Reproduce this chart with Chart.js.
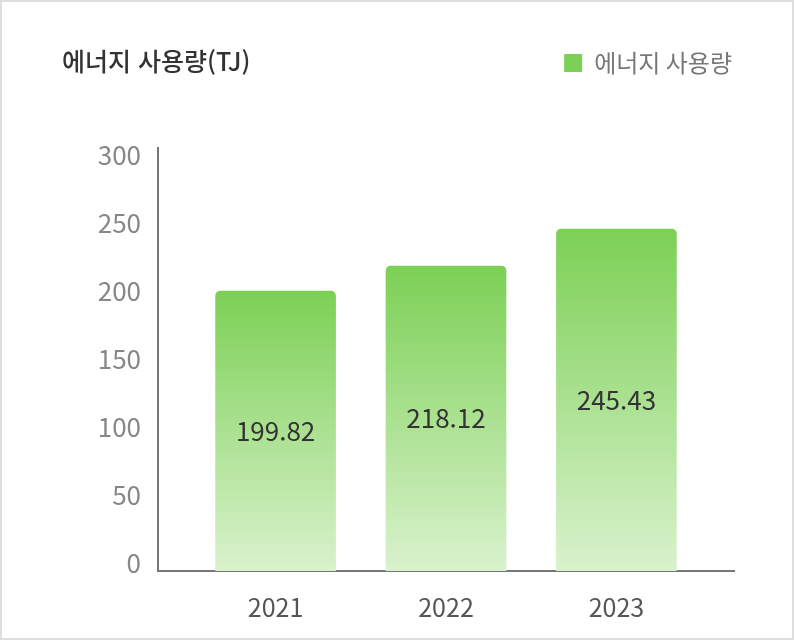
<!DOCTYPE html>
<html lang="ko">
<head>
<meta charset="utf-8">
<script src="https://cdn.jsdelivr.net/npm/chart.js@4.4.1/dist/chart.umd.min.js"></script>
<style>
  html, body { margin: 0; padding: 0; background: #fff; }
  #card { position: relative; width: 794px; height: 640px; box-sizing: border-box; border: 2px solid #dedede;
          font-family: "Noto Sans CJK KR", "Noto Sans", sans-serif; }
  #title { position: absolute; left: 60px; top: 46px; font-size: 25px; font-weight: 500; color: #333; line-height: 1; }
  #wrap { position: absolute; left: 0; top: 0; width: 790px; height: 636px; }
</style>
</head>
<body>
<div id="card">
  <div id="wrap"><canvas id="chart"></canvas></div>
  <div id="title">에너지 사용량(TJ)</div>
</div>
<script>
// 데이터
const years = ['2021', '2022', '2023'];
const usage = [199.82, 218.12, 245.43];
const yTicks = [0, 50, 100, 150, 200, 250, 300];
const seriesName = '에너지 사용량';

Chart.defaults.font.family = '"Noto Sans CJK KR", "Noto Sans", sans-serif';

// 막대 가운데 값 표시
const barLabels = {
  id: 'barLabels',
  afterDatasetsDraw(chart) {
    const ctx = chart.ctx;
    const meta = chart.getDatasetMeta(0);
    ctx.save();
    ctx.font = '26px "Noto Sans CJK KR"';
    ctx.fillStyle = '#333';
    ctx.textAlign = 'center';
    ctx.textBaseline = 'middle';
    meta.data.forEach((bar, i) => {
      ctx.fillText(usage[i].toFixed(2), bar.x, (bar.y + bar.base) / 2);
    });
    ctx.restore();
  }
};

// 범례 아래 여백
const legendGap = {
  id: 'legendGap',
  beforeInit(chart) {
    const fit = chart.legend.fit;
    chart.legend.fit = function () {
      fit.bind(chart.legend)();
      this.height = 99;
    };
  }
};

function barFill(c) {
  const chart = c.chart, area = chart.chartArea;
  if (!area || c.dataIndex === undefined) return '#7ed057';
  const top = chart.scales.y.getPixelForValue(usage[c.dataIndex]);
  const g = chart.ctx.createLinearGradient(0, top, 0, area.bottom);
  g.addColorStop(0, '#7cd055');
  g.addColorStop(1, '#d9f2cd');
  return g;
}

new Chart(document.getElementById('chart'), {
  type: 'bar',
  data: {
    datasets: [{
      label: seriesName,
      data: usage.map((v, i) => ({ x: i + 1, y: v })),
      backgroundColor: barFill,
      borderRadius: { topLeft: 5, topRight: 5 },
      borderSkipped: 'start',
      barThickness: 120,
      base: -6
    }]
  },
  options: {
    responsive: true, maintainAspectRatio: false,
    animation: false,
    layout: { padding: { top: 47, right: 58, bottom: 0, left: 0 } },
    plugins: {
      legend: {
        position: 'top', align: 'end',
        labels: { boxWidth: 18, boxHeight: 18, padding: 2, color: '#777', font: { size: 24 } }
      },
      tooltip: { enabled: false }
    },
    scales: {
      x: {
        type: 'linear', min: 0.31, max: 3.69, offset: false,
        grid: { display: false },
        border: { display: true, color: '#777', width: 2 },
        ticks: { autoSkip: false, padding: 13, color: '#555', font: { size: 25 }, callback: v => years[v - 1] },
        afterBuildTicks: s => { s.ticks = years.map((y, i) => ({ value: i + 1 })); },
        afterFit: s => { s.height = 67; }
      },
      y: {
        min: -6, max: 305,
        grid: { display: false },
        border: { display: true, color: '#777', width: 2 },
        ticks: { padding: 9, color: '#888', font: { size: 26 } },
        afterBuildTicks: s => { s.ticks = yTicks.map(v => ({ value: v })); },
        afterFit: s => { s.width = 156; }
      }
    }
  },
  plugins: [barLabels, legendGap]
});
</script>
</body>
</html>
